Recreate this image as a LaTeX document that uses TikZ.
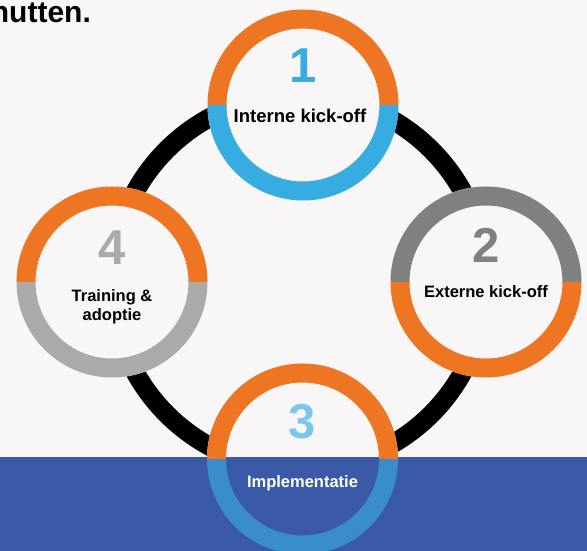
\documentclass[tikz,border=0pt]{standalone}
\usepackage{fontspec}
\setmainfont{Liberation Sans}
\usetikzlibrary{calc}

\definecolor{pagebg}{HTML}{F8F6F7}
\definecolor{ringorange}{HTML}{EE7623}
\definecolor{skyblue}{HTML}{37ACE1}
\definecolor{darkgrey}{HTML}{7F817F}
\definecolor{lightgrey}{HTML}{AAAAAA}
\definecolor{midblue}{HTML}{3A8DCB}
\definecolor{paleblue}{HTML}{7CC7EC}
\definecolor{bandblue}{HTML}{3A5AA7}

\tikzset{
  halfring/.style={line width=19pt, line cap=butt},
  stepnum/.style={inner sep=0pt, font=\fontsize{49}{49}\selectfont\bfseries},
  steplabel/.style={inner sep=0pt, anchor=base, align=center,
    font=\fontsize{16.5}{19.5}\selectfont\bfseries},
}

% two-coloured ring: upper half and lower half
\newcommand{\twotonering}[3]{%
  \draw[halfring, #2] ($(#1)+(86,0)$) arc[start angle=0, end angle=180, radius=86];
  \draw[halfring, #3] ($(#1)+(-86,0)$) arc[start angle=180, end angle=360, radius=86];
}

\begin{document}
\begin{tikzpicture}[x=1pt, y=1pt]
  \useasboundingbox (0,0) rectangle (587,551);
  \fill[pagebg] (0,0) rectangle (587,551);

  % centres of the cycle and of the four steps
  \coordinate (mid) at (299,269);
  \coordinate (c1) at (303,446);
  \coordinate (c2) at (486,269);
  \coordinate (c3) at (302.5,92);
  \coordinate (c4) at (112,269);

  % the black cycle behind the steps
  \draw[line width=19pt, black] (mid) circle[radius=187];

  % step discs
  \foreach \c in {c1,c2,c3,c4}
    \fill[pagebg] (\c) circle[radius=95.5];

  % blue footer band
  \fill[bandblue] (0,0) rectangle (587,94);

  % step rings
  \twotonering{c1}{ringorange}{skyblue}
  \twotonering{c2}{darkgrey}{ringorange}
  \twotonering{c3}{ringorange}{midblue}
  \twotonering{c4}{ringorange}{lightgrey}

  % step numbers
  \node[stepnum, text=skyblue]   (n1) at (303,485.2) {1};
  \node[stepnum, text=darkgrey]  (n2) at (486,305.2) {2};
  \node[stepnum, text=paleblue]  (n3) at (302.5,129.3) {3};
  \node[stepnum, text=lightgrey] (n4) at (112,303.5) {4};

  % step labels
  \node[steplabel, font=\fontsize{18.5}{20}\selectfont\bfseries] (l1) at (300,428.3) {Interne kick-off};
  \node[steplabel] (l2) at (486,253.7) {Externe kick-off};
  \node[steplabel, anchor=north] (l4) at (112,262) {Training \&\\adoptie};
  \node[steplabel, text=white] (l3) at (302.5,63.7) {Implementatie};

  % heading fragment at the top edge
  \node[inner sep=0pt, anchor=base west, font=\fontsize{30}{30}\selectfont\bfseries]
    (head) at (-9.3,528) {hutten.};
\end{tikzpicture}
\end{document}
